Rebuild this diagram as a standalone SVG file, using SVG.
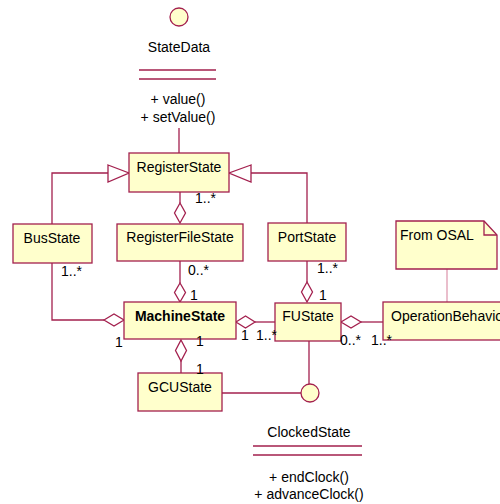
<svg xmlns="http://www.w3.org/2000/svg" width="500" height="504" viewBox="0 0 500 504">
<style>
text{font-family:"Liberation Sans",Arial,sans-serif;font-size:14px;fill:#000}
.c{text-anchor:middle}
.b{fill:#ffffcc;stroke:#a3204e;stroke-width:1.3}
.l{fill:none;stroke:#a3204e;stroke-width:1.3}
.d{fill:#fff;stroke:#a3204e;stroke-width:1.3}
.n{fill:none;stroke:#e3a9bb;stroke-width:1.5}
</style>
<rect width="500" height="504" fill="#fff"/>
<g id="connectors">
<path class="l" d="M179 128V153"/>
<path class="l" d="M52 224V173H108"/>
<polygon class="d" points="108,165 129,173 108,182"/>
<path class="l" d="M307 223V173H251"/>
<polygon class="d" points="251,165 229,173 251,182"/>
<path class="l" d="M180 192V203"/>
<polygon class="d" points="180,203 185.5,213 180,223 174.5,213"/>
<path class="l" d="M180 261V283"/>
<polygon class="d" points="180,283 185.5,292.5 180,302 174.5,292.5"/>
<path class="l" d="M52 263V320H104"/>
<polygon class="d" points="104,320 114,314 124,320 114,326"/>
<path class="l" d="M255 322H275"/>
<polygon class="d" points="236,322 245.5,316 255,322 245.5,328"/>
<path class="l" d="M307 261V282"/>
<polygon class="d" points="307,282 312.5,292 307,302 301.5,292"/>
<path class="l" d="M361 322H383"/>
<polygon class="d" points="341,322 351,316 361,322 351,328"/>
<path class="n" d="M447 269V302"/>
<polygon class="d" points="181,340 186.5,350.5 181,361 175.5,350.5"/>
<path class="l" d="M181 361V373"/>
<path class="l" d="M222 393H301"/>
<path class="l" d="M309 341V384"/>
</g>
<g id="StateData">
<circle class="b" cx="179" cy="17" r="9"/>
<text class="c" x="179" y="52">StateData</text>
<path class="l" d="M139 70H216M139 79H216"/>
<text class="c" x="178" y="104">+ value()</text>
<text class="c" x="178" y="122">+ setValue()</text>
</g>
<g id="RegisterState">
<rect class="b" x="129" y="153" width="100" height="39"/>
<text class="c" x="179" y="172">RegisterState</text>
</g>
<g id="BusState">
<rect class="b" x="13" y="224" width="79" height="39"/>
<text class="c" x="52" y="243">BusState</text>
</g>
<g id="RegisterFileState">
<rect class="b" x="117" y="224" width="126" height="37"/>
<text class="c" x="180" y="242">RegisterFileState</text>
</g>
<g id="PortState">
<rect class="b" x="268" y="223" width="78" height="38"/>
<text class="c" x="307" y="242">PortState</text>
</g>
<g id="FromOSAL">
<path class="b" d="M396 221H484L497 235V269H396Z"/>
<path class="l" d="M484 221V235H497"/>
<text x="400" y="240">From OSAL</text>
</g>
<g id="MachineState">
<rect class="b" x="124" y="302" width="112" height="37"/>
<text class="c" x="180" y="321" style="font-weight:bold">MachineState</text>
</g>
<g id="FUState">
<rect class="b" x="275" y="303" width="66" height="38"/>
<text class="c" x="308" y="321">FUState</text>
</g>
<g id="OperationBehavior">
<rect class="b" x="383" y="302" width="130" height="38"/>
<text x="391" y="321">OperationBehavior</text>
</g>
<g id="GCUState">
<rect class="b" x="138" y="373" width="84" height="38"/>
<text class="c" x="180" y="392">GCUState</text>
</g>
<g id="ClockedState">
<circle class="b" cx="310" cy="393" r="9"/>
<text class="c" x="309" y="437">ClockedState</text>
<path class="l" d="M253 446H362M253 455H362"/>
<text class="c" x="309" y="482">+ endClock()</text>
<text class="c" x="309" y="499">+ advanceClock()</text>
</g>
<g id="labels">
<text x="195" y="203">1..*</text>
<text x="61" y="276">1..*</text>
<text x="188" y="275">0..*</text>
<text x="190" y="300">1</text>
<text x="115" y="347">1</text>
<text x="317" y="273">1..*</text>
<text x="319" y="300">1</text>
<text x="241" y="340">1</text>
<text x="256" y="340">1..*</text>
<text x="340" y="345">0..*</text>
<text x="371" y="345">1..*</text>
<text x="196" y="346">1</text>
<text x="196" y="374">1</text>
</g>
</svg>
